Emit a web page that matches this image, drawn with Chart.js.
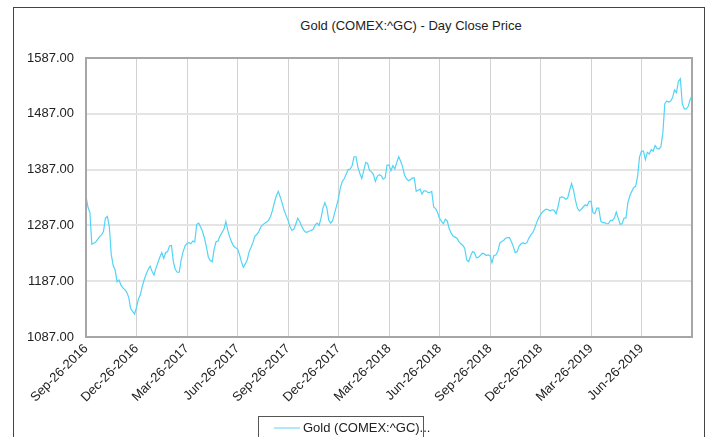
<!DOCTYPE html>
<html>
<head>
<meta charset="utf-8">
<script src="https://cdn.jsdelivr.net/npm/chart.js@4.4.1/dist/chart.umd.min.js"></script>
<style>
  html, body { margin: 0; padding: 0; background: #fff; }
  #wrap { position: relative; width: 716px; height: 437px; overflow: hidden; font-family: "Liberation Sans", Arial, sans-serif; }
  #frame { position: absolute; left: 13px; top: 7px; width: 690px; height: 440px; border: 1px solid #444; border-bottom: none; }
  #title { position: absolute; left: 0; width: 822px; top: 18px; text-align: center; font-size: 13px; color: #222; }
  #legend { position: absolute; left: 258px; top: 416px; width: 164px; height: 22px; border: 1px solid #555; font-size: 13px; color: #222; }
  #legend .swatch { position: absolute; left: 15px; top: 10px; width: 26px; height: 2px; background: #b0e9fb; }
  #legend .txt { position: absolute; left: 44px; top: 3px; white-space: nowrap; }
  canvas { position: absolute; left: 0; top: 0; }
</style>
</head>
<body>
<div id="wrap">
  <div id="frame"></div>
  <div id="title">Gold (COMEX:^GC) - Day Close Price</div>
  <canvas id="lineChart" width="716" height="437"></canvas>
  <div id="legend"><span class="swatch"></span><span class="txt">Gold (COMEX:^GC)...</span></div>
</div>
<script>
// quarter tick labels (one every 26 half-week points)
let tickLabels = ['Sep-26-2016','Dec-26-2016','Mar-26-2017','Jun-26-2017','Sep-26-2017','Dec-26-2017',
                  'Mar-26-2018','Jun-26-2018','Sep-26-2018','Dec-26-2018','Mar-26-2019','Jun-26-2019']
let pointsPerTick = 26

// close price, twice a week (one row per quarter)
let goldClose = [
  1339,1320,1310,1253,1255,1257,1262,1267,1270,1276,1300,1303,1285,1235,1215,1207,1186,1189,1180,1175,1172,1167,1158,1138,1133,1128,
  1140,1155,1163,1178,1190,1200,1208,1214,1205,1198,1210,1220,1230,1238,1228,1238,1240,1250,1251,1221,1208,1203,1203,1225,1240,1250,
  1255,1256,1254,1259,1257,1289,1291,1284,1276,1264,1248,1230,1224,1222,1245,1258,1259,1268,1274,1280,1294,1278,1266,1257,1250,1247,
  1245,1235,1222,1212,1218,1225,1240,1248,1257,1268,1271,1276,1284,1288,1291,1293,1296,1303,1314,1328,1340,1348,1338,1327,1314,1305,
  1296,1285,1278,1280,1289,1300,1294,1286,1279,1275,1275,1277,1278,1280,1288,1291,1287,1300,1318,1328,1318,1296,1291,1296,1309,1322,
  1336,1355,1366,1371,1379,1387,1388,1394,1410,1410,1391,1380,1371,1385,1400,1398,1385,1383,1378,1366,1375,1378,1376,1370,1372,1395,
  1395,1385,1394,1388,1400,1410,1402,1392,1377,1371,1367,1369,1372,1372,1348,1350,1352,1343,1349,1349,1346,1346,1348,1320,1317,1310,
  1300,1294,1290,1298,1295,1281,1273,1268,1266,1264,1258,1254,1251,1246,1225,1222,1232,1240,1238,1229,1230,1233,1237,1236,1233,1234,
  1233,1220,1233,1234,1240,1255,1258,1260,1264,1265,1265,1258,1249,1238,1240,1250,1254,1256,1254,1256,1264,1270,1274,1282,1292,1300,
  1306,1311,1314,1316,1315,1313,1315,1314,1308,1320,1337,1338,1337,1334,1336,1350,1362,1350,1332,1318,1313,1316,1320,1324,1322,1330,
  1330,1310,1308,1318,1318,1295,1292,1292,1290,1290,1296,1296,1300,1311,1300,1289,1290,1300,1300,1328,1340,1348,1355,1357,1375,1410,
  1420,1420,1405,1418,1415,1423,1420,1430,1425,1424,1428,1453,1505,1510,1508,1510,1516,1530,1525,1545,1550,1505,1496,1496,1500,1512,
  1520
]

let yTicks = [1087, 1187, 1287, 1387, 1487, 1587]
let pointIndex = goldClose.map((v, i) => i)

// grey border round the plot
let plotFrame = {
  id: 'plotFrame',
  afterDatasetsDraw(chart) {
    let a = chart.chartArea
    let ctx = chart.ctx
    ctx.save()
    ctx.strokeStyle = '#a6a6a6'
    ctx.lineWidth = 2
    ctx.strokeRect(a.left, a.top, a.right - a.left, a.bottom - a.top)
    ctx.restore()
  }
}

let lineChart = document.querySelector('#lineChart').getContext('2d')

let line_Chart = new Chart(lineChart, {
  type: 'line',
  data: {
    labels: pointIndex,
    datasets: [{
      label: 'Gold (COMEX:^GC)',
      data: goldClose,
      borderColor: '#52d4f6',
      borderWidth: 1.2,
      pointRadius: 0,
      tension: 0,
      fill: false
    }]
  },
  options: {
    responsive: false,
    animation: false,
    layout: { padding: { left: 20, right: 24, top: 58, bottom: 0 } },
    plugins: { legend: { display: false }, title: { display: false }, tooltip: { enabled: false } },
    scales: {
      x: {
        type: 'category',
        grid: { color: '#d2d2d2', lineWidth: 1, drawTicks: false },
        border: { display: false },
        ticks: {
          autoSkip: false,
          maxRotation: 45,
          minRotation: 45,
          padding: 4,
          color: '#222',
          font: { family: 'Liberation Sans', size: 13 },
          callback: function(value, index) {
            return index % pointsPerTick === 0 ? tickLabels[index / pointsPerTick] : null
          }
        },
        afterFit: function(scale) { scale.height = 100 }
      },
      y: {
        min: yTicks[0],
        max: yTicks[yTicks.length - 1],
        afterBuildTicks: function(scale) { scale.ticks = yTicks.map(v => ({ value: v })) },
        grid: { color: '#e4e4e4', lineWidth: 2, drawTicks: false },
        border: { display: false },
        ticks: {
          padding: 12,
          color: '#222',
          font: { family: 'Liberation Sans', size: 13 },
          callback: function(value) { return value.toFixed(2) }
        },
        afterFit: function(scale) { scale.width = 66 }
      }
    }
  },
  plugins: [plotFrame]
})
</script>
</body>
</html>
